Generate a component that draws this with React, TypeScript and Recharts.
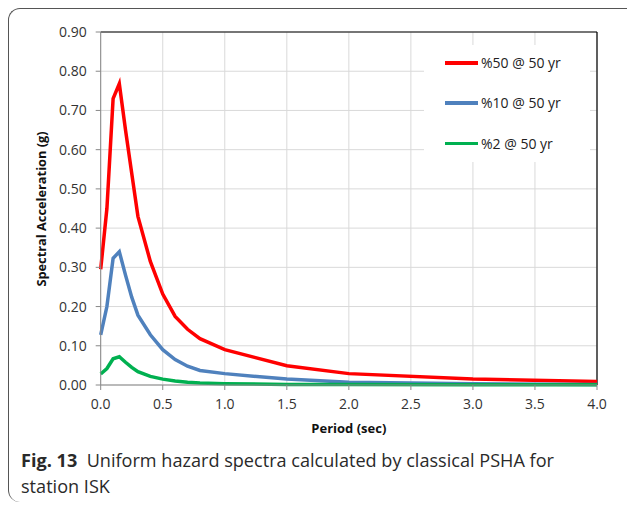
import React from "react";
import { LineChart, Line, XAxis, YAxis, CartesianGrid, Legend, ReferenceLine, Label } from "recharts";

// period (sec)
const periods = [0, 0.05, 0.1, 0.15, 0.2, 0.25, 0.3, 0.4, 0.5, 0.6, 0.7, 0.8, 1.0, 1.5, 2.0, 3.0, 4.0];
// spectral acceleration (g)
const sa50 = [0.295, 0.45, 0.73, 0.768, 0.65, 0.54, 0.43, 0.315, 0.232, 0.175, 0.142, 0.118, 0.09, 0.049, 0.029, 0.015, 0.009];
const sa10 = [0.128, 0.2, 0.323, 0.34, 0.28, 0.224, 0.178, 0.128, 0.09, 0.065, 0.048, 0.037, 0.029, 0.015, 0.007, 0.003, 0.0015];
const sa2 = [0.028, 0.042, 0.067, 0.072, 0.058, 0.045, 0.034, 0.022, 0.015, 0.01, 0.007, 0.005, 0.003, 0.0015, 0.001, 0.0005, 0.0005];

const xTicks = [0, 0.5, 1.0, 1.5, 2.0, 2.5, 3.0, 3.5, 4.0];
const yTicks = [0, 0.1, 0.2, 0.3, 0.4, 0.5, 0.6, 0.7, 0.8, 0.9];

const seriesNames = ["%50 @ 50 yr", "%10 @ 50 yr", "%2 @ 50 yr"];

const data = periods.map((t, i) => ({ t, a: sa50[i], b: sa10[i], c: sa2[i] }));

const font = "'Open Sans', sans-serif";
const tickStyle = { fontFamily: font, fontSize: 14, fill: "#333" };

function LegendBox(props: any) {
  // keep the series order, not the alphabetical one
  const items = [...(props.payload || [])].sort(
    (p: any, q: any) => seriesNames.indexOf(p.value) - seriesNames.indexOf(q.value)
  );
  return (
    <div style={{ position: "relative", width: 166, height: 117, background: "#fff" }}>
      {items.map((it: any, i: number) => (
        <div key={i} style={{ position: "absolute", left: 0, top: 18 + i * 40.3 }}>
          <div style={{ position: "absolute", left: 21, top: -2, width: 33, height: 3.5, background: it.color }} />
          <div
            style={{
              position: "absolute",
              left: 57,
              top: -10,
              whiteSpace: "nowrap",
              fontFamily: font,
              fontSize: 14,
              lineHeight: "20px",
              color: "#222",
            }}
          >
            {it.value}
          </div>
        </div>
      ))}
    </div>
  );
}

export default function App() {
  return (
    <div style={{ position: "absolute", left: 0, top: 0, width: 627, height: 506, background: "#fff" }}>
      <div
        style={{
          position: "absolute",
          left: 8,
          top: 8,
          width: 619,
          height: 494,
          borderTop: "1.3px solid #555",
          borderLeft: "1.3px solid #555",
          borderTopLeftRadius: 12,
          borderBottomLeftRadius: 12,
          boxSizing: "border-box",
        }}
      />
      <div style={{ position: "absolute", left: 0, top: 0 }}>
        <LineChart width={627} height={440} data={data} margin={{ top: 32, right: 30, left: 40.7, bottom: 5 }}>
          <CartesianGrid stroke="#d9d9d9" strokeWidth={1} />
          <XAxis
            dataKey="t"
            type="number"
            domain={[0, 4]}
            ticks={xTicks}
            tickFormatter={(v: number) => v.toFixed(1)}
            stroke="#888"
            tickSize={5}
            tickMargin={9}
            height={50}
            tick={tickStyle}
          >
            <Label
              value="Period (sec)"
              position="insideBottom"
              offset={2}
              style={{ fontFamily: font, fontSize: 13, fontWeight: 700, fill: "#111" }}
            />
          </XAxis>
          <YAxis
            type="number"
            domain={[0, 0.9]}
            ticks={yTicks}
            tickFormatter={(v: number) => v.toFixed(2)}
            stroke="#888"
            tickSize={5}
            tickMargin={9}
            width={60}
            tick={tickStyle}
          >
            <Label
              content={() => (
                <text
                  x={41}
                  y={209}
                  transform="rotate(-90 41 209)"
                  textAnchor="middle"
                  dominantBaseline="central"
                  style={{ fontFamily: font, fontSize: 12.8, fontWeight: 700, fill: "#111" }}
                >
                  Spectral Acceleration (g)
                </text>
              )}
            />
          </YAxis>
          <ReferenceLine y={0.9} stroke="#000" strokeWidth={1.2} />
          <ReferenceLine x={4} stroke="#000" strokeWidth={1.2} />
          <Legend
            content={<LegendBox />}
            layout="horizontal"
            verticalAlign="middle"
            align="center"
            wrapperStyle={{ left: 424, top: 45, width: 166, height: 117 }}
          />
          <Line type="linear" dataKey="a" name={seriesNames[0]} stroke="#ff0000" strokeWidth={3.5} dot={false} isAnimationActive={false} />
          <Line type="linear" dataKey="b" name={seriesNames[1]} stroke="#4f81bd" strokeWidth={3.5} dot={false} isAnimationActive={false} />
          <Line type="linear" dataKey="c" name={seriesNames[2]} stroke="#00b050" strokeWidth={3.5} dot={false} isAnimationActive={false} />
        </LineChart>
      </div>
      <div
        style={{
          position: "absolute",
          left: 21,
          top: 447,
          width: 600,
          fontFamily: font,
          fontSize: 18.1,
          lineHeight: "26px",
          color: "#2a2a2a",
          whiteSpace: "nowrap",
        }}
      >
        <span style={{ fontWeight: 700 }}>Fig. 13</span>
        {"\u00a0\u00a0"}Uniform hazard spectra calculated by classical PSHA for
        <br />
        station ISK
      </div>
    </div>
  );
}
